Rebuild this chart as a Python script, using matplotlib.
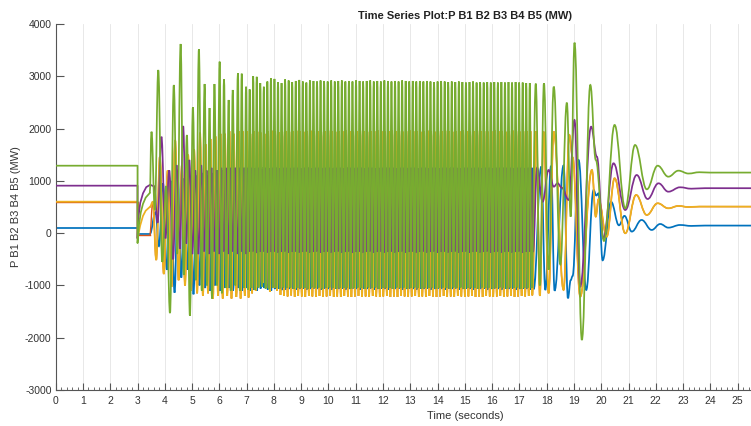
import numpy as np
import matplotlib.pyplot as plt
from matplotlib.path import Path
from matplotlib.patches import PathPatch
from matplotlib.ticker import MultipleLocator

plt.rcParams['font.family'] = ['Liberation Sans', 'DejaVu Sans']
plt.rcParams['axes.unicode_minus'] = False

# MATLAB default line colours, B1..B5
colors = ["#0072BD", "#D95319", "#EDB120", "#7E2F8E", "#77AC30"]
widths = [1.25, 1.0, 1.25, 1.25, 1.25]

# pre-fault level, fault at 3 s and first recovery (time s, MW)
b1_fault_t = [0, 3.0, 3.0, 3.45]
b1_fault_v = [104, 104, -20, -20]
b2_fault_t = [0, 3.0, 3.0, 3.45]
b2_fault_v = [602, 602, -35, -35]
b3_fault_t = [0, 3.0, 3.0, 3.1, 3.2, 3.3, 3.45]
b3_fault_v = [602, 602, -100, 150, 330, 430, 500]
b4_fault_t = [0, 3.0, 3.0, 3.03, 3.1, 3.2, 3.32, 3.45]
b4_fault_v = [908, 908, -100, 300, 580, 762, 880, 921]
b5_fault_t = [0, 3.0, 3.0, 3.05, 3.12, 3.2, 3.3, 3.45]
b5_fault_v = [1290, 1290, -190, 150, 400, 560, 680, 768]

# power swing: early irregular cycles (cycle start times), then regular cycles
early_cycle_t = [3.51, 3.76, 4.05, 4.33, 4.58, 4.81, 5.03, 5.25, 5.46,
                 5.64, 5.82, 6.01, 6.17, 6.34, 6.49, 6.68, 6.82, 6.98]
steady_start = 7.11
steady_period = 0.13

b1_early_pk = [400, 950, 1000, 1000, 1050, 1000, 1100, 1150, 1100,
               1150, 1200, 1200, 1200, 1250, 1250, 1250, 1250, 1250]
b1_early_tr = [-250, -700, -1138, -850, -700, -1170, -1000, -1050, -1100,
               -1000, -1100, -1050, -1050, -1100, -1050, -1100, -1050, -1100]
b3_early_pk = [600, 1460, 1200, 1780, 1300, 1500, 1600, 1920, 1700,
               1800, 1850, 1900, 1900, 1950, 1900, 1950, 1950, 1950]
b3_early_tr = [-513, -781, -1027, -900, -1000, -1100, -1150, -1200, -1150,
               -1250, -1200, -1250, -1200, -1250, -1220, -1250, -1200, -1230]
b4_early_pk = [900, 1845, 1200, 1300, 2049, 1400, 1200, 1300, 1200,
               1250, 1200, 1250, 1250, 1250, 1250, 1250, 1250, 1250]
b4_early_tr = [200, -100, -500, -300, -200, -400, -400, -350, -400,
               -350, -400, -350, -400, -350, -400, -350, -400, -350]
b5_early_pk = [1940, 3120, 900, 2833, 3617, 1877, 2407, 3516, 2852,
               2393, 2852, 3280, 2942, 2547, 2738, 3057, 3050, 2800]
b5_early_tr = [440, -550, -1530, -400, -800, -1580, -900, -1100, -1000,
               -1250, -1000, -1150, -1050, -1100, -1000, -1100, -1050, -1080]

b1_pk = [1230, 1250, 1240, 1260, 1250, 1240, 1250, 1260, 1250, 1240,
         1250, 1260, 1250, 1250, 1240, 1250, 1260, 1250, 1250, 1240,
         1250, 1250, 1260, 1250, 1240, 1250, 1250, 1260, 1250, 1250,
         1240, 1250, 1250, 1260, 1250, 1250, 1240, 1250, 1260, 1250,
         1250, 1240, 1250, 1250, 1260, 1250, 1250, 1240, 1250, 1250,
         1260, 1250, 1250, 1240, 1250, 1250, 1260, 1250, 1240, 1250,
         1250, 1260, 1250, 1240, 1250, 1250, 1260, 1250, 1240, 1250,
         1250, 1260, 1250, 1250, 1240, 1250, 1260, 1250, 1250, 1250]
b1_tr = [-1080, -1100, -1060, -1050, -1080, -1100, -1070, -1060, -1090, -1080,
         -1070, -1060, -1080, -1070, -1060, -1080, -1070, -1060, -1070, -1080,
         -1060, -1070, -1080, -1060, -1070, -1060, -1080, -1070, -1060, -1070,
         -1080, -1060, -1070, -1060, -1080, -1070, -1060, -1070, -1080, -1060,
         -1070, -1060, -1080, -1070, -1060, -1070, -1080, -1060, -1070, -1060,
         -1080, -1070, -1060, -1070, -1080, -1060, -1070, -1060, -1080, -1070,
         -1060, -1070, -1080, -1060, -1070, -1060, -1080, -1070, -1060, -1070,
         -1080, -1060, -1070, -1060, -1080, -1070, -1060, -1070, -1080, -1070]
b3_pk = [1900, 1950, 1940, 1920, 1900, 1950, 1960, 1950, 1930, 1940,
         1950, 1940, 1950, 1960, 1950, 1940, 1950, 1960, 1950, 1950,
         1940, 1950, 1960, 1950, 1940, 1950, 1950, 1960, 1950, 1940,
         1950, 1960, 1950, 1940, 1950, 1950, 1960, 1950, 1940, 1950,
         1960, 1950, 1950, 1940, 1950, 1960, 1950, 1950, 1940, 1950,
         1960, 1950, 1940, 1950, 1950, 1960, 1950, 1940, 1950, 1950,
         1960, 1950, 1940, 1950, 1960, 1950, 1950, 1940, 1950, 1960,
         1950, 1950, 1940, 1950, 1960, 1950, 1940, 1950, 1950, 1950]
b3_tr = [-1150, -1100, -1000, -950, -1050, -1120, -1050, -1100, -1180, -1200,
         -1210, -1190, -1220, -1200, -1210, -1220, -1200, -1210, -1220, -1200,
         -1220, -1210, -1200, -1220, -1210, -1220, -1200, -1210, -1220, -1210,
         -1200, -1220, -1210, -1220, -1200, -1210, -1220, -1210, -1200, -1220,
         -1210, -1220, -1200, -1210, -1220, -1210, -1200, -1220, -1210, -1220,
         -1200, -1210, -1220, -1210, -1200, -1220, -1210, -1220, -1200, -1210,
         -1220, -1210, -1200, -1220, -1210, -1220, -1200, -1210, -1220, -1210,
         -1200, -1220, -1210, -1200, -1220, -1210, -1200, -1210, -1200, -1190]
b4_pk = [1250, 1240, 1250, 1230, 1250, 1240, 1250, 1250, 1240, 1250,
         1250, 1240, 1250, 1250, 1240, 1250, 1250, 1240, 1250, 1250,
         1240, 1250, 1250, 1240, 1250, 1250, 1240, 1250, 1250, 1240,
         1250, 1250, 1240, 1250, 1250, 1240, 1250, 1250, 1240, 1250,
         1250, 1240, 1250, 1250, 1240, 1250, 1250, 1240, 1250, 1250,
         1240, 1250, 1250, 1240, 1250, 1250, 1240, 1250, 1250, 1240,
         1250, 1250, 1240, 1250, 1250, 1240, 1250, 1250, 1240, 1250,
         1250, 1240, 1250, 1250, 1240, 1250, 1250, 1240, 1250, 1250]
b4_tr = [-350, -380, -360, -350, -370, -360, -350, -370, -360, -350,
         -370, -360, -350, -370, -360, -350, -370, -360, -350, -370,
         -360, -350, -370, -360, -350, -370, -360, -350, -370, -360,
         -350, -370, -360, -350, -370, -360, -350, -370, -360, -350,
         -370, -360, -350, -370, -360, -350, -370, -360, -350, -370,
         -360, -350, -370, -360, -350, -370, -360, -350, -370, -360,
         -350, -370, -360, -350, -370, -360, -350, -370, -360, -350,
         -370, -360, -350, -370, -360, -350, -370, -360, -350, -360]
b5_pk = [2750, 3000, 2990, 2870, 2800, 2900, 2960, 2950, 2890, 2870,
         2940, 2920, 2890, 2910, 2930, 2900, 2880, 2920, 2910, 2900,
         2920, 2910, 2900, 2920, 2900, 2910, 2920, 2900, 2910, 2900,
         2920, 2910, 2900, 2910, 2920, 2900, 2910, 2900, 2920, 2910,
         2900, 2910, 2900, 2920, 2910, 2900, 2910, 2900, 2910, 2900,
         2910, 2900, 2890, 2900, 2910, 2900, 2890, 2900, 2890, 2900,
         2890, 2880, 2890, 2900, 2880, 2890, 2880, 2890, 2880, 2890,
         2880, 2890, 2880, 2890, 2880, 2890, 2880, 2880, 2870, 2870]
b5_tr = [-1050, -1080, -1040, -1030, -1060, -1070, -1040, -1050, -1060, -1040,
         -1050, -1040, -1060, -1050, -1040, -1050, -1060, -1040, -1050, -1040,
         -1060, -1050, -1040, -1050, -1060, -1040, -1050, -1040, -1060, -1050,
         -1040, -1050, -1060, -1040, -1050, -1040, -1060, -1050, -1040, -1050,
         -1060, -1040, -1050, -1040, -1060, -1050, -1040, -1050, -1060, -1040,
         -1050, -1040, -1060, -1050, -1040, -1050, -1060, -1040, -1050, -1040,
         -1060, -1050, -1040, -1050, -1060, -1040, -1050, -1040, -1060, -1050,
         -1040, -1050, -1060, -1040, -1050, -1040, -1060, -1050, -1040, -1050]

# phase of each series inside a swing cycle (fraction of the cycle)
phase = [0.6, 0.2, 0.2, 0.4, 0.0]

# end of the swing, damped ringing and new steady state (time s, MW)
b1_late_t = [17.8, 17.95, 18.16, 18.29, 18.62, 18.78, 18.88, 18.95, 19.17, 19.45,
             19.72, 19.82, 19.9, 20.05, 20.36, 20.65, 20.85, 21.12, 21.48, 21.85,
             22.16, 22.46, 22.89, 23.3, 23.8, 30]
b1_late_v = [1271, -1087, 1284, -1100, 1295, -1246, -900, -820, 1399, -1087,
             826, 720, 762, -520, 600, 150, 330, 30, 252, 61,
             175, 105, 156, 138, 145, 143]
b3_late_t = [17.62, 17.75, 17.89, 18.07, 18.26, 18.62, 18.83, 18.95, 19.23, 19.66,
             19.8, 19.9, 20.2, 20.49, 20.88, 21.28, 21.67, 22.07, 22.46, 22.83,
             23.2, 23.6, 30]
b3_late_v = [1950, -1200, 1940, -1150, 1940, -1087, 1877, 1450, -1215, 1208,
             315, 650, -67, 1049, -3, 730, 347, 571, 475, 520,
             500, 508, 506]
b4_late_t = [17.65, 17.85, 18.07, 18.26, 18.4, 18.55, 18.81, 19.02, 19.23, 19.63,
             19.84, 20.08, 20.45, 20.88, 21.3, 21.7, 22.1, 22.46, 22.89, 23.3,
             23.8, 30]
b4_late_v = [1250, 600, 1208, 889, 954, 870, 634, 2164, -1024, 2036,
             1462, -100, 1336, 443, 1112, 653, 953, 793, 877, 850,
             860, 858]
b5_late_t = [17.6, 17.75, 17.9, 18.07, 18.26, 18.5, 18.74, 18.88, 19.02, 19.29,
             19.6, 19.8, 20.1, 20.49, 20.88, 21.24, 21.67, 22.07, 22.46, 22.83,
             23.2, 23.6, 24.0, 30]
b5_late_v = [2860, -1000, 2866, -700, 2802, -600, 2495, 315, 3643, -2043,
             2834, 1400, -150, 2069, 475, 1686, 838, 1290, 1080, 1195,
             1140, 1165, 1158, 1160]

# B2 runs under B3 after the fault
b2_early_pk, b2_early_tr = b3_early_pk, b3_early_tr
b2_pk, b2_tr = b3_pk, b3_tr
b2_late_t, b2_late_v = b3_late_t, b3_late_v

x_ticks = list(range(0, 31))
x_tick_labels = [str(t) if t <= 25 else "" for t in x_ticks]


def swing_knots(cycle_t, pk, tr, off):
    ts, vs = [], []
    for k in range(len(cycle_t)):
        T = cycle_t[k + 1] - cycle_t[k] if k + 1 < len(cycle_t) else steady_period
        ts += [cycle_t[k] + off * T, cycle_t[k] + (off + 0.5) * T]
        vs += [pk[k], tr[k]]
    return ts, vs


def smooth_path(ts, vs):
    # cubic segments with flat tangents at every extremum
    verts = [(ts[0], vs[0])]
    codes = [Path.MOVETO]
    for i in range(1, len(ts)):
        d = (ts[i] - ts[i - 1]) * 0.4
        verts += [(ts[i - 1] + d, vs[i - 1]), (ts[i] - d, vs[i]), (ts[i], vs[i])]
        codes += [Path.CURVE4] * 3
    return Path(verts, codes)


fault = [(b1_fault_t, b1_fault_v), (b2_fault_t, b2_fault_v), (b3_fault_t, b3_fault_v),
         (b4_fault_t, b4_fault_v), (b5_fault_t, b5_fault_v)]
early = [(b1_early_pk, b1_early_tr), (b2_early_pk, b2_early_tr), (b3_early_pk, b3_early_tr),
         (b4_early_pk, b4_early_tr), (b5_early_pk, b5_early_tr)]
steady = [(b1_pk, b1_tr), (b2_pk, b2_tr), (b3_pk, b3_tr), (b4_pk, b4_tr), (b5_pk, b5_tr)]
late = [(b1_late_t, b1_late_v), (b2_late_t, b2_late_v), (b3_late_t, b3_late_v),
        (b4_late_t, b4_late_v), (b5_late_t, b5_late_v)]

cycle_t = early_cycle_t + list(steady_start + steady_period * np.arange(len(b5_pk)))

fig = plt.figure(figsize=(7.51, 4.26), dpi=100)
ax = fig.add_axes([55.7 / 751, 1 - 390 / 426, (874 - 55.7) / 751, 366 / 426])

for i in range(5):
    ft, fv = fault[i]
    ax.plot(ft, fv, color=colors[i], lw=widths[i], zorder=2 + i)
    pk = early[i][0] + steady[i][0]
    tr = early[i][1] + steady[i][1]
    st, sv = swing_knots(cycle_t, pk, tr, phase[i])
    ts = [ft[-1]] + st + late[i][0]
    vs = [fv[-1]] + sv + late[i][1]
    ax.add_patch(PathPatch(smooth_path(ts, vs), fill=False, edgecolor=colors[i],
                           lw=widths[i], zorder=2 + i))

ax.set_xlim(0, 30)
ax.set_ylim(-3000, 4000)
ax.set_xticks(x_ticks)
ax.set_xticklabels(x_tick_labels)
ax.xaxis.set_minor_locator(MultipleLocator(0.2))
ax.set_yticks(range(-3000, 4001, 1000))
ax.xaxis.grid(True, color='#e4e4e4', lw=0.6)
ax.set_axisbelow(True)

for s in ['top', 'right']:
    ax.spines[s].set_visible(False)
for s in ['left', 'bottom']:
    ax.spines[s].set_color('#555555')
    ax.spines[s].set_linewidth(0.8)

ax.tick_params(axis='both', which='major', direction='in', colors='#555555',
               labelcolor='#333333', labelsize=7.5, width=0.8)
ax.tick_params(axis='y', which='major', length=5.5, pad=3)
ax.tick_params(axis='x', which='major', length=4.8, pad=4.5)
ax.tick_params(axis='x', which='minor', direction='in', length=2, width=0.6,
               colors='#555555')

ax.set_title("Time Series Plot:P B1 B2 B3 B4 B5 (MW)", fontsize=8,
             fontweight='bold', color='#222222', pad=3.5)
ax.set_xlabel("Time (seconds)", fontsize=8, color='#333333')
ax.set_ylabel("P B1 B2 B3 B4 B5 (MW)", fontsize=8, color='#333333')
ax.xaxis.set_label_coords(0.5, -0.057)
ax.yaxis.set_label_coords(-0.043, 0.5)

fig.savefig("out.png", dpi=100)
